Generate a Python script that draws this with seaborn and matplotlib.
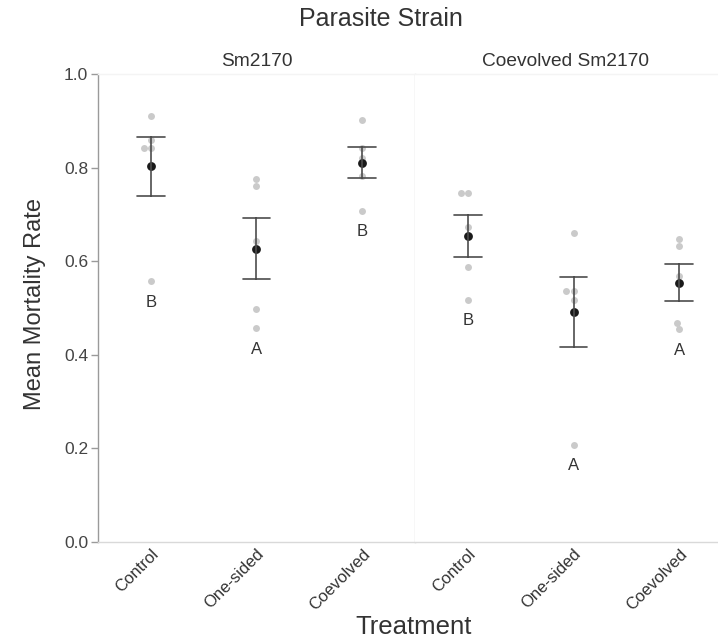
import numpy as np
import pandas as pd
import matplotlib
matplotlib.use('Agg')
import matplotlib.pyplot as plt
import seaborn as sns

# ---------------------------------------------
# data
# ---------------------------------------------
strains = ['Sm2170', 'Coevolved Sm2170']
treatments = ['Control', 'One-sided', 'Coevolved']

sm_control = [0.911, 0.860, 0.842, 0.842, 0.557]
sm_onesided = [0.775, 0.760, 0.644, 0.497, 0.457]
sm_coevolved = [0.902, 0.841, 0.821, 0.782, 0.708]

co_control = [0.745, 0.745, 0.673, 0.588, 0.518]
co_onesided = [0.660, 0.536, 0.536, 0.517, 0.208]
co_coevolved = [0.648, 0.632, 0.568, 0.469, 0.455]

# significance letters per strain, in treatment order
sm_letters = ['B', 'A', 'B']
co_letters = ['B', 'A', 'A']

groups = {
    'Sm2170': [sm_control, sm_onesided, sm_coevolved],
    'Coevolved Sm2170': [co_control, co_onesided, co_coevolved],
}
letters = {'Sm2170': sm_letters, 'Coevolved Sm2170': co_letters}

rows = []
for strain in strains:
    for treat, vals in zip(treatments, groups[strain]):
        for v in vals:
            rows.append({'Strain': strain, 'Treatment': treat, 'Mortality': v})
df = pd.DataFrame(rows)

# ---------------------------------------------
# plot
# ---------------------------------------------
sns.set_style('white')
plt.rcParams['font.family'] = ['Liberation Sans', 'DejaVu Sans']

text_col = '#333333'
W, H = 718, 642
fig = plt.figure(figsize=(W / 100, H / 100), dpi=100)

ax_w = 317 / W
bottom = 1 - 542 / H
height = 468 / H
axes = [fig.add_axes([98 / W, bottom, ax_w, height]),
        fig.add_axes([415 / W, bottom, ax_w, height])]

for i, (ax, strain) in enumerate(zip(axes, strains)):
    sub = df[df['Strain'] == strain]
    sns.swarmplot(data=sub, x='Treatment', y='Mortality', order=treatments,
                  color='#cacaca', size=5, ax=ax, zorder=1)
    sns.pointplot(data=sub, x='Treatment', y='Mortality', order=treatments,
                  errorbar='se', capsize=0.26, linestyle='none',
                  color='#1a1a1a', markersize=4.3,
                  err_kws={'color': '#4d4d4d', 'linewidth': 1.2},
                  ax=ax, zorder=3)

    # significance letters under the lowest point
    for j, treat in enumerate(treatments):
        low = min(groups[strain][j])
        ax.text(j, low - 0.045, letters[strain][j], ha='center', va='center',
                fontsize=12, color=text_col)

    ax.set_ylim(0, 1)
    ax.set_xlim(-0.5, 2.5)
    ax.set_xlabel('')
    ax.set_ylabel('')
    ax.set_title(strain, fontsize=13.8, color=text_col, pad=6,
                 x=0.5 if i == 0 else 0.474)
    ax.set_xticks(range(len(treatments)))
    ax.set_xticklabels(treatments, rotation=45, ha='right',
                       rotation_mode='anchor', fontsize=12, color=text_col)
    ax.tick_params(axis='x', length=0, pad=3)

    for side in ['top', 'right', 'bottom', 'left']:
        ax.spines[side].set_color('#d9d9d9')
        ax.spines[side].set_linewidth(1.0)
    ax.spines['top'].set_color('#f4f4f4')

    if i == 0:
        ax.spines['left'].set_color('#9a9a9a')
        ax.set_yticks(np.arange(0, 1.01, 0.2))
        ax.set_yticklabels([f'{t:.1f}' for t in np.arange(0, 1.01, 0.2)],
                           fontsize=12.5, color='#444444')
        ax.tick_params(axis='y', left=True, length=5, width=1,
                       color='#9a9a9a', pad=2)
    else:
        ax.spines['left'].set_visible(False)
        ax.set_yticks([])

fig.text(381 / W, 1 - 19 / H, 'Parasite Strain', ha='center', va='center',
         fontsize=18, color=text_col)
fig.text(414 / W, 1 - 627 / H, 'Treatment', ha='center', va='center',
         fontsize=18.5, color=text_col)
fig.text(35 / W, 1 - 304 / H, 'Mean Mortality Rate', ha='center', va='center',
         rotation=90, fontsize=17,
         family=['Liberation Sans Narrow', 'Liberation Sans'], color=text_col)

fig.savefig('out.png', dpi=100)
